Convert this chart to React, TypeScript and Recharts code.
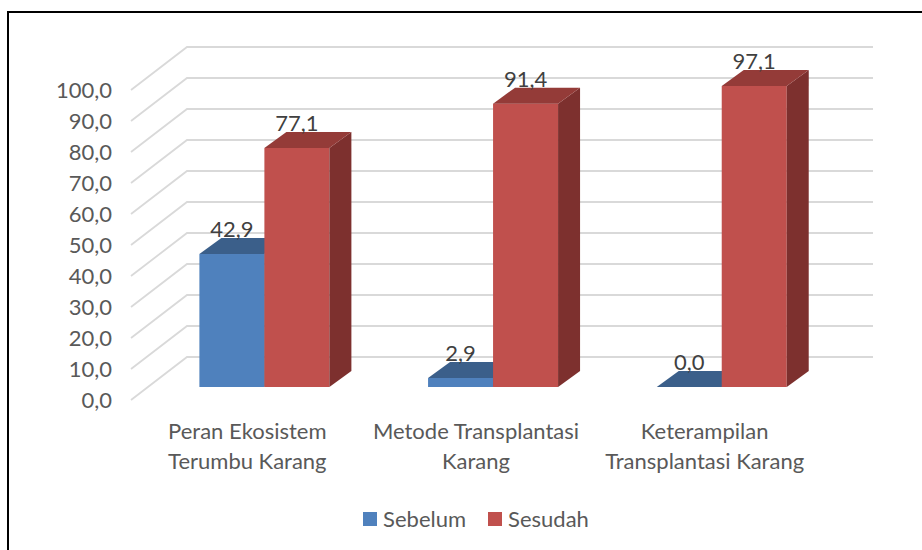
import { Bar, BarChart, CartesianGrid, LabelList, XAxis, YAxis } from 'recharts';

const categories = ['Peran Ekosistem Terumbu Karang', 'Metode Transplantasi Karang', 'Keterampilan Transplantasi Karang'];
const categoryLines = [
	['Peran Ekosistem', 'Terumbu Karang'],
	['Metode Transplantasi', 'Karang'],
	['Keterampilan', 'Transplantasi Karang'],
];
const sebelum = [42.9, 2.9, 0.0];
const sesudah = [77.1, 91.4, 97.1];
const yTicks = [0, 10, 20, 30, 40, 50, 60, 70, 80, 90, 100];

const data = categories.map((name, i) => ({ name, sebelum: sebelum[i], sesudah: sesudah[i] }));

const FONT = 'Lato, "Open Sans", sans-serif';
const AXIS_TEXT = '#595959';
const LABEL_TEXT = '#404040';
const GRID = '#D9D9D9';

// depth of the fake 3d walls / bars
const WALL_DX = 56;
const WALL_FRONT = 13;
const WALL_BACK = 30;
const BAR_DX = 22;
const BAR_DY = 16;

const fmt = (v: number) => v.toFixed(1).replace('.', ',');

const BLUE = { front: '#4F81BD', top: '#3B5F8A', side: '#385D8A' };
const RED = { front: '#C0504D', top: '#943B38', side: '#7D302E' };

function makeBox(colors: { front: string; top: string; side: string }) {
	return (props: any) => {
		const { x, y, width, height } = props;
		const w = width;
		const h = Math.max(0, height);
		return (
			<g>
				<rect x={x} y={y} width={w} height={h} fill={colors.front} />
				<polygon
					points={`${x + w},${y} ${x + w + BAR_DX},${y - BAR_DY} ${x + w + BAR_DX},${y + h - BAR_DY} ${x + w},${y + h}`}
					fill={colors.side}
				/>
				<polygon
					points={`${x},${y} ${x + w},${y} ${x + w + BAR_DX},${y - BAR_DY} ${x + BAR_DX},${y - BAR_DY}`}
					fill={colors.top}
				/>
			</g>
		);
	};
}

const BlueBox = makeBox(BLUE);
const RedBox = makeBox(RED);

function GridLine(props: any) {
	const { x1, x2, y1 } = props;
	const left = x1 - 19;
	return (
		<path
			d={`M${left},${y1 + WALL_FRONT} L${left + WALL_DX},${y1 - WALL_BACK} L${x2 + 37},${y1 - WALL_BACK}`}
			fill="none"
			stroke={GRID}
			strokeWidth={1.8}
		/>
	);
}

function YTick(props: any) {
	const { x, y, payload } = props;
	return (
		<text x={x - 30} y={y + 21} textAnchor="end" fill={AXIS_TEXT} fontSize={22} fontFamily={FONT}>
			{fmt(payload.value)}
		</text>
	);
}

function XTick(props: any) {
	const { x, payload, index } = props;
	const lines = categoryLines[index] ?? [payload.value];
	return (
		<g>
			{lines.map((line: string, i: number) => (
				<text
					key={i}
					x={x - 17}
					y={439 + i * 30}
					textAnchor="middle"
					fill={AXIS_TEXT}
					fontSize={22}
					fontFamily={FONT}
				>
					{line}
				</text>
			))}
		</g>
	);
}

function ValueLabel(props: any) {
	const { x, y, width, value } = props;
	return (
		<text
			x={x + width / 2}
			y={y - 17}
			textAnchor="middle"
			fill={LABEL_TEXT}
			fontSize={22}
			fontFamily={FONT}
		>
			{fmt(value)}
		</text>
	);
}

const legendItems = [
	{ label: 'Sebelum', color: BLUE.front },
	{ label: 'Sesudah', color: RED.front },
];

export default function App() {
	return (
		<div
			style={{
				position: 'fixed',
				left: 0,
				top: 0,
				width: 922,
				height: 550,
				overflow: 'hidden',
				background: '#fff',
			}}
		>
			<div
				style={{
					position: 'absolute',
					left: 7,
					top: 11,
					width: 1000,
					height: 700,
					border: '2px solid #000',
				}}
			/>
			<div style={{ position: 'absolute', left: 0, top: 0 }}>
				<BarChart
					width={922}
					height={550}
					data={data}
					margin={{ top: 77, right: 86, bottom: 103, left: 90 }}
					barCategoryGap="21.6%"
					barGap={0}
				>
					<CartesianGrid vertical={false} horizontal={(p: any) => <GridLine key={p.key} {...p} />} />
					<XAxis dataKey="name" axisLine={false} tickLine={false} height={60} tick={<XTick />} interval={0} />
					<YAxis
						domain={[0, 100]}
						ticks={yTicks}
						axisLine={false}
						tickLine={false}
						width={60}
						tick={<YTick />}
						interval={0}
					/>
					<Bar dataKey="sebelum" fill={BLUE.front} shape={BlueBox} isAnimationActive={false}>
						<LabelList dataKey="sebelum" content={<ValueLabel />} />
					</Bar>
					<Bar dataKey="sesudah" fill={RED.front} shape={RedBox} isAnimationActive={false}>
						<LabelList dataKey="sesudah" content={<ValueLabel />} />
					</Bar>
				</BarChart>
			</div>
			<div
				style={{
					position: 'absolute',
					left: 0,
					top: 505,
					width: 952,
					display: 'flex',
					justifyContent: 'center',
					alignItems: 'center',
					fontFamily: FONT,
					fontSize: 22,
					color: AXIS_TEXT,
				}}
			>
				{legendItems.map((it, i) => (
					<div key={it.label} style={{ display: 'flex', alignItems: 'center', marginLeft: i ? 22 : 0 }}>
						<span style={{ width: 14, height: 14, background: it.color, marginRight: 6, display: 'inline-block' }} />
						<span>{it.label}</span>
					</div>
				))}
			</div>
		</div>
	);
}
